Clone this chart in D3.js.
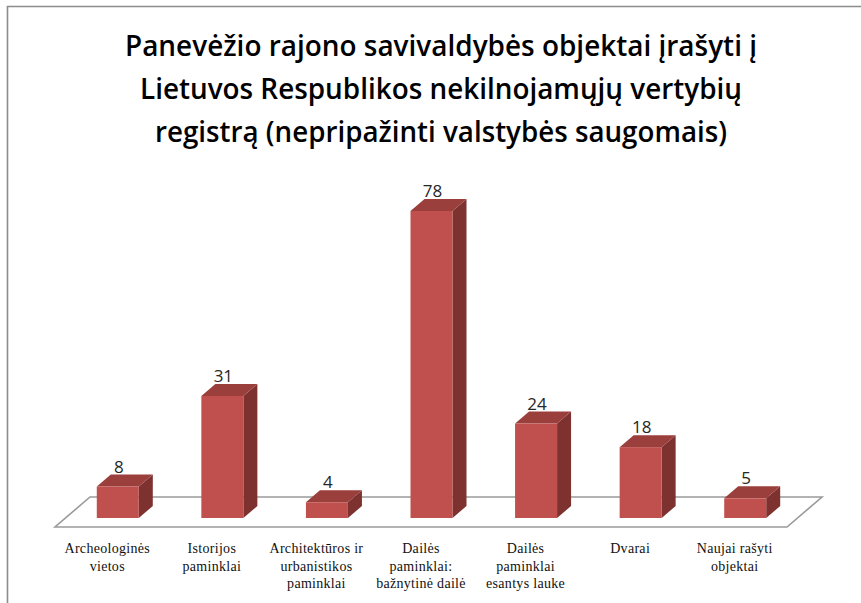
<!DOCTYPE html>
<html>
<head>
<meta charset="utf-8">
<script src="https://cdn.jsdelivr.net/npm/d3@7/dist/d3.min.js"></script>
<style>
  html, body { margin: 0; padding: 0; background: #fff; }
  svg { display: block; }
  .cat { font-family: "Liberation Serif", "Times New Roman", serif; font-size: 14px; letter-spacing: 0.3px; }
  .ttl { font-family: "Liberation Sans Narrow", "Open Sans", "Liberation Sans", sans-serif; font-size: 29px; font-weight: 600; }
  .val { font-family: "Open Sans", "Liberation Sans", sans-serif; font-size: 17px; }
</style>
</head>
<body>
<svg id="chart" width="861" height="603"></svg>
<script>
// Chart data
const titleLines = [
  "Panevėžio rajono savivaldybės objektai įrašyti į",
  "Lietuvos Respublikos nekilnojamųjų vertybių",
  "registrą (nepripažinti valstybės saugomais)"
];
const categories = [
  "Archeologinės vietos",
  "Istorijos paminklai",
  "Architektūros ir urbanistikos paminklai",
  "Dailės paminklai: bažnytinė dailė",
  "Dailės paminklai esantys lauke",
  "Dvarai",
  "Naujai rašyti objektai"
];
const categoryLines = [
  ["Archeologinės", "vietos"],
  ["Istorijos", "paminklai"],
  ["Architektūros ir", "urbanistikos", "paminklai"],
  ["Dailės", "paminklai:", "bažnytinė dailė"],
  ["Dailės", "paminklai", "esantys lauke"],
  ["Dvarai"],
  ["Naujai rašyti", "objektai"]
];
const values = [8, 31, 4, 78, 24, 18, 5];

const svg = d3.select("#chart");

// Outer frame (top and left edges visible)
svg.append("path")
  .attr("d", "M7.5,603 L7.5,6.5 L861,6.5")
  .attr("fill", "none")
  .attr("stroke", "#8c8c8c")
  .attr("stroke-width", 1.6);

// Title
const titleWidths = [632, 602, 572];
svg.append("g").selectAll("text")
  .data(titleLines)
  .join("text")
  .attr("class", "ttl")
  .attr("x", 441)
  .attr("y", (d, i) => 56 + i * 43)
  .attr("text-anchor", "middle")
  .attr("fill", "#000")
  .attr("textLength", (d, i) => titleWidths[i])
  .attr("lengthAdjust", "spacingAndGlyphs")
  .text(d => d);

// Floor geometry (oblique projection)
const floorFront = 527, floorLeft = 55, floorRight = 787;
const depthX = 35, depthY = 30;          // full floor depth
const barDepthX = 14, barDepthY = 12;    // bar depth
const barInsetY = 9;                     // bar front face behind floor front edge
const barInsetX = barInsetY * depthX / depthY;

const x = d3.scaleBand()
  .domain(categories)
  .range([floorLeft, floorRight])
  .paddingInner(0)
  .paddingOuter(0);

const baseY = floorFront - barInsetY;
const y = d3.scaleLinear().domain([0, 80]).range([baseY, baseY - 80 * 307 / 78]);

// Floor
svg.append("path")
  .attr("d", `M${floorLeft},${floorFront} L${floorRight},${floorFront} L${floorRight + depthX},${floorFront - depthY} L${floorLeft + depthX},${floorFront - depthY} Z`)
  .attr("fill", "#fff")
  .attr("stroke", "#9a9a9a")
  .attr("stroke-width", 1.6);

// Bars
const barW = 42;
const bars = svg.append("g").selectAll("g")
  .data(values)
  .join("g");

const bx = (d, i) => x(categories[i]) + x.bandwidth() / 2 + barInsetX - barW / 2;

// side face
bars.append("path")
  .attr("d", (d, i) => {
    const x0 = bx(d, i) + barW, y0 = y(d), y1 = y(0);
    return `M${x0},${y1} L${x0},${y0} L${x0 + barDepthX},${y0 - barDepthY} L${x0 + barDepthX},${y1 - barDepthY} Z`;
  })
  .attr("fill", "#7d3230");
// top face
bars.append("path")
  .attr("d", (d, i) => {
    const x0 = bx(d, i), y0 = y(d);
    return `M${x0},${y0} L${x0 + barW},${y0} L${x0 + barW + barDepthX},${y0 - barDepthY} L${x0 + barDepthX},${y0 - barDepthY} Z`;
  })
  .attr("fill", "#9b3f3d");
// front face
bars.append("rect")
  .attr("x", (d, i) => bx(d, i))
  .attr("y", d => y(d))
  .attr("width", barW)
  .attr("height", d => y(0) - y(d))
  .attr("fill", "#c0504d");

// Value labels
bars.append("text")
  .attr("class", "val")
  .attr("x", (d, i) => bx(d, i) + barW / 2 + 1)
  .attr("y", d => y(d) - barDepthY - 2)
  .attr("text-anchor", "middle")
  .attr("fill", "#262626")
  .text(d => d);

// Category labels
const lab = svg.append("g").selectAll("text")
  .data(categoryLines)
  .join("text")
  .attr("class", "cat")
  .attr("text-anchor", "middle")
  .attr("fill", "#111");
lab.each(function (lines, i) {
  const cx = x(categories[i]) + x.bandwidth() / 2;
  d3.select(this).selectAll("tspan")
    .data(lines)
    .join("tspan")
    .attr("x", cx)
    .attr("y", (d, j) => 553 + j * 17.5)
    .text(d => d);
});
</script>
</body>
</html>
